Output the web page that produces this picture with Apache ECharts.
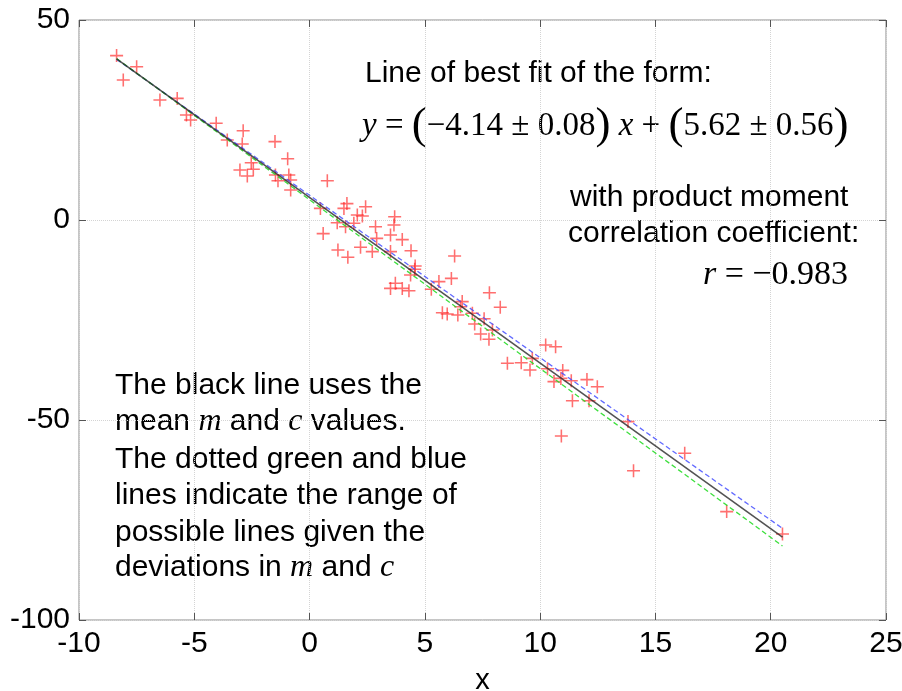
<!DOCTYPE html>
<html>
<head>
<meta charset="utf-8">
<script src="https://cdn.jsdelivr.net/npm/echarts@6/dist/echarts.min.js"></script>
<style>
  html, body { margin: 0; padding: 0; background: #fff; }
  #chart { width: 902px; height: 691px; }
</style>
</head>
<body>
<div id="chart"></div>
<script>
// Measured (x, y) pairs
const xValues = [
  -8.37, -7.50, -8.08, -6.49, -5.74, -5.34, -5.16, -4.05, -3.57, -2.88,
  -2.92, -1.50, -0.95, -2.53, -3.02, -2.70, -2.44, -1.48, -1.37, -0.90,
  -0.82, -0.82, 0.77, 0.47, 1.49, 1.62, 2.43, 2.07, 2.29, 1.20,
  1.56, 1.92, 0.59, 2.86, 2.91, 3.69, 3.66, 3.51, 4.02, 1.23,
  1.66, 2.21, 2.72, 3.51, 4.40, 4.58, 4.56, 4.38, 3.51, 3.72,
  4.02, 4.31, 6.29, 6.15, 5.61, 5.28, 7.80, 6.62, 6.55, 8.27,
  5.76, 5.97, 6.43, 7.06, 7.57, 7.16, 7.93, 7.42, 7.78, 10.24,
  10.67, 9.66, 8.58, 9.18, 9.56, 10.32, 10.98, 10.90, 12.03, 10.60,
  11.35, 12.48, 11.40, 12.12, 13.81, 10.92, 16.27, 14.05, 18.09, 20.51
];
const yValues = [
  41.1, 38.3, 35.0, 30.0, 30.4, 26.25, 25.0, 24.2, 20.0, 22.3,
  19.0, 19.6, 15.3, 14.3, 12.5, 11.0, 12.7, 11.25, 9.8, 11.25,
  10.0, 7.5, 9.8, 2.9, 2.9, 4.1, 3.3, 1.25, 1.0, -0.7,
  -1.7, -0.8, -3.4, -1.7, -4.6, 0.8, -1.25, -3.75, -4.9, -7.5,
  -9.3, -6.8, -7.9, -7.9, -7.7, -11.5, -12.3, -13.75, -17.1, -15.8,
  -17.1, -17.7, -9.0, -14.6, -15.4, -17.3, -18.2, -20.4, -21.7, -21.8,
  -23.2, -23.5, -23.75, -23.3, -24.7, -26.0, -27.5, -28.5, -29.8, -31.25,
  -31.7, -34.6, -35.8, -35.7, -37.5, -37.2, -37.6, -39.6, -39.9, -40.4,
  -40.2, -41.7, -45.2, -45.2, -50.4, -54.0, -58.3, -62.7, -72.9, -78.5
];

// Fitted line parameters (y = m x + c)
const slope = -4.14, slopeErr = 0.08;
const intercept = 5.62, interceptErr = 0.56;
const rValue = -0.983;

// Axis ticks
const xTicks = [-10, -5, 0, 5, 10, 15, 20, 25];
const yTicks = [-100, -50, 0, 50];

const points = xValues.map((x, i) => [x, yValues[i]]);
const xLo = Math.min(...xValues), xHi = Math.max(...xValues);
const lineFor = (m, c) => [[xLo, m * xLo + c], [xHi, m * xHi + c]];

const plusPath = 'path://M-0.12,-1 H0.12 V-0.12 H1 V0.12 H0.12 V1 H-0.12 V0.12 H-1 V-0.12 H-0.12 Z';

const sans = '"Liberation Sans", Arial, sans-serif';
const serif = '"Liberation Serif", "Times New Roman", serif';
const fmt = v => (v < 0 ? '\u2212' : '') + Math.abs(v).toFixed(2);

const chart = echarts.init(document.getElementById('chart'), null, { renderer: 'canvas' });

const tickFont = { fontFamily: sans, fontSize: 30, color: '#000' };
const tick = { inside: true, length: 7, lineStyle: { color: '#555' } };
const noLine = { show: false, onZero: false };
const grid = { color: '#d4d4d4', type: 'dotted', width: 1 };
const bodyFont = '30px ' + sans;

chart.setOption({
  animation: false,
  backgroundColor: '#fff',
  grid: {
    left: 79, right: 16, top: 20, bottom: 71,
    containLabel: false, outerBoundsMode: 'none',
    show: true, borderColor: '#8c8c8c', borderWidth: 1
  },
  xAxis: [{
    type: 'value', min: xTicks[0], max: xTicks[xTicks.length - 1], interval: 5,
    name: 'x', nameLocation: 'middle', nameGap: 46,
    nameTextStyle: { fontFamily: sans, fontSize: 29, color: '#000' },
    axisLine: noLine, axisTick: tick,
    axisLabel: Object.assign({ margin: 9 }, tickFont),
    splitLine: { show: true, lineStyle: grid }
  }, {
    type: 'value', position: 'top', min: xTicks[0], max: xTicks[xTicks.length - 1], interval: 5,
    axisLine: noLine, axisTick: tick,
    axisLabel: { show: false }, splitLine: { show: false }
  }],
  yAxis: [{
    type: 'value', min: yTicks[0], max: yTicks[yTicks.length - 1], interval: 50,
    name: 'y', nameLocation: 'middle', nameGap: 80, nameRotate: 90,
    nameTextStyle: { fontFamily: sans, fontSize: 29, color: '#000' },
    axisLine: noLine, axisTick: tick,
    axisLabel: Object.assign({ margin: 9 }, tickFont),
    splitLine: { show: true, lineStyle: grid }
  }, {
    type: 'value', position: 'right', min: yTicks[0], max: yTicks[yTicks.length - 1], interval: 50,
    axisLine: noLine, axisTick: tick,
    axisLabel: { show: false }, splitLine: { show: false }
  }],
  series: [
    {
      name: 'data', type: 'scatter', data: points,
      symbol: plusPath, symbolSize: 13,
      itemStyle: { color: 'rgba(255,30,30,0.8)' },
      z: 2
    },
    {
      name: 'upper', type: 'line', data: lineFor(slope + slopeErr, intercept + interceptErr),
      showSymbol: false, symbol: 'none',
      lineStyle: { color: 'rgba(70,80,255,0.85)', width: 1.3, type: [5, 3] }, z: 3
    },
    {
      name: 'lower', type: 'line', data: lineFor(slope - slopeErr, intercept - interceptErr),
      showSymbol: false, symbol: 'none',
      lineStyle: { color: 'rgba(40,220,40,0.9)', width: 1.3, type: [5, 3] }, z: 3
    },
    {
      name: 'mean', type: 'line', data: lineFor(slope, intercept),
      showSymbol: false, symbol: 'none',
      lineStyle: { color: 'rgba(40,40,40,0.8)', width: 1.6 }, z: 4
    }
  ],
  graphic: [
    { type: 'text', left: 365, top: 59, style: { text: 'Line of best fit of the form:', font: bodyFont, fill: '#000' } },
    {
      type: 'text', left: 362, top: 104,
      style: {
        text: '{i|y}{n| = }{p|(}{n|' + fmt(slope) + ' \u00b1 ' + slopeErr.toFixed(2) + '}{p|)}{i| x}{n| + }{p|(}{n|' +
              fmt(intercept) + ' \u00b1 ' + interceptErr.toFixed(2) + '}{p|)}',
        rich: {
          i: { fontFamily: serif, fontStyle: 'italic', fontSize: 33, fill: '#000' },
          n: { fontFamily: serif, fontSize: 33, fill: '#000' },
          p: { fontFamily: serif, fontSize: 45, fill: '#000' }
        }
      }
    },
    { type: 'text', left: 570, top: 183, style: { text: 'with product moment', font: bodyFont, fill: '#000' } },
    { type: 'text', left: 568, top: 219, style: { text: 'correlation coefficient:', font: bodyFont, fill: '#000' } },
    {
      type: 'text', right: 54, top: 258,
      style: {
        text: '{i|r}{n| = ' + '\u2212' + Math.abs(rValue).toFixed(3) + '}',
        rich: {
          i: { fontFamily: serif, fontStyle: 'italic', fontSize: 34, fill: '#000' },
          n: { fontFamily: serif, fontSize: 34, fill: '#000' }
        }
      }
    },
    { type: 'text', left: 115, top: 371, style: { text: 'The black line uses the', font: bodyFont, fill: '#000' } },
    {
      type: 'text', left: 115, top: 406,
      style: {
        text: '{t|mean }{v|m}{t| and }{v|c}{t| values.}',
        rich: {
          t: { fontFamily: sans, fontSize: 30, fill: '#000' },
          v: { fontFamily: serif, fontStyle: 'italic', fontSize: 32, fill: '#000' }
        }
      }
    },
    { type: 'text', left: 115, top: 445, style: { text: 'The dotted green and blue', font: bodyFont, fill: '#000' } },
    { type: 'text', left: 115, top: 481, style: { text: 'lines indicate the range of', font: bodyFont, fill: '#000' } },
    { type: 'text', left: 115, top: 518, style: { text: 'possible lines given the', font: bodyFont, fill: '#000' } },
    {
      type: 'text', left: 115, top: 552,
      style: {
        text: '{t|deviations in }{v|m}{t| and }{v|c}',
        rich: {
          t: { fontFamily: sans, fontSize: 30, fill: '#000' },
          v: { fontFamily: serif, fontStyle: 'italic', fontSize: 32, fill: '#000' }
        }
      }
    }
  ]
});
</script>
</body>
</html>
